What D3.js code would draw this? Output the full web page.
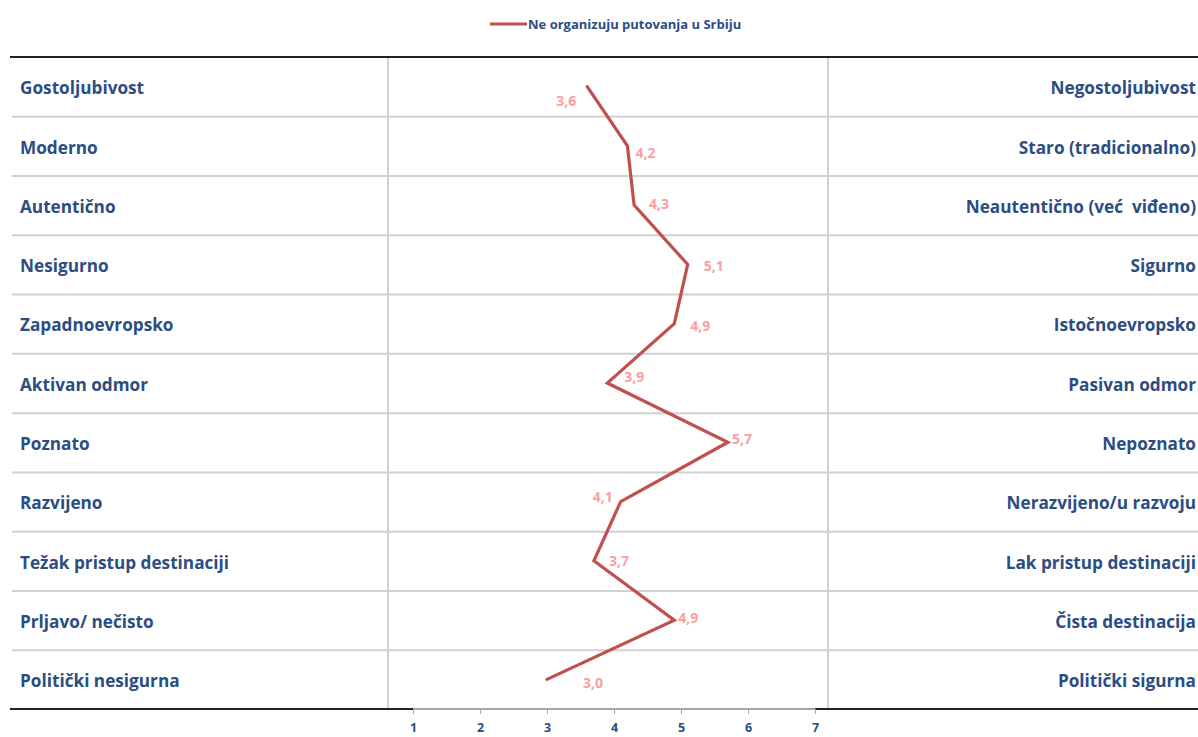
<!DOCTYPE html>
<html>
<head>
<meta charset="utf-8">
<script src="https://cdn.jsdelivr.net/npm/d3@7"></script>
<style>
  html, body { margin: 0; padding: 0; background: #fff; }
  svg { display: block; }
  text { font-family: "Open Sans", Lato, sans-serif; }
</style>
</head>
<body>
<svg id="chart" width="1198" height="737"></svg>
<script>
// Semantic differential: left pole, right pole, average score (1–7)
const leftPoles = [
  "Gostoljubivost", "Moderno", "Autentično", "Nesigurno", "Zapadnoevropsko",
  "Aktivan odmor", "Poznato", "Razvijeno", "Težak pristup destinaciji",
  "Prljavo/ nečisto", "Politički nesigurna"
];
const rightPoles = [
  "Negostoljubivost", "Staro (tradicionalno)", "Neautentično (već  viđeno)", "Sigurno",
  "Istočnoevropsko", "Pasivan odmor", "Nepoznato", "Nerazvijeno/u razvoju",
  "Lak pristup destinaciji", "Čista destinacija", "Politički sigurna"
];
const seriesName = "Ne organizuju putovanja u Srbiju";
const scores = [3.6, 4.2, 4.3, 5.1, 4.9, 3.9, 5.7, 4.1, 3.7, 4.9, 3.0];
const ticks = [1, 2, 3, 4, 5, 6, 7];

// where each value label sits relative to its point
const labelNudge = [
  [-21, 14], [18, 7], [25, -1], [26, 2], [26, 2], [27, -6],
  [14, -3], [-18, -4], [25, 0], [14, -2], [46, 4]
];

const blue = "#2c4d82";
const lineRed = "#c0504d";
const labelPink = "#fd9e9e";

const svg = d3.select("#chart");
const tableLeft = 10, tableRight = 1198, tableTop = 57, tableBottom = 709;
const colA = 388, colB = 828;

const x = d3.scaleLinear().domain([1, 7]).range([413, 815]);
const y = d3.scaleBand().domain(d3.range(scores.length)).range([tableTop, tableBottom]).padding(0);

// row separators
svg.append("g").selectAll("line")
  .data(d3.range(1, scores.length))
  .join("line")
  .attr("x1", 12).attr("x2", tableRight)
  .attr("y1", d => y(d) + 0.5).attr("y2", d => y(d) + 0.5)
  .attr("stroke", "#d0d0d0").attr("stroke-width", 2);

// column separators
svg.append("g").selectAll("line")
  .data([colA, colB])
  .join("line")
  .attr("x1", d => d).attr("x2", d => d)
  .attr("y1", tableTop).attr("y2", tableBottom)
  .attr("stroke", "#d0d0d0").attr("stroke-width", 2);

// table frame
svg.append("line").attr("x1", tableLeft).attr("x2", tableRight)
  .attr("y1", tableTop).attr("y2", tableTop).attr("stroke", "#222").attr("stroke-width", 2.2);
svg.append("line").attr("x1", tableLeft).attr("x2", tableRight)
  .attr("y1", tableBottom).attr("y2", tableBottom).attr("stroke", "#222").attr("stroke-width", 2);

// pole labels
svg.append("g").selectAll("text")
  .data(leftPoles)
  .join("text")
  .attr("x", 20).attr("y", (d, i) => y(i) + y.bandwidth() / 2)
  .attr("dy", "0.45em")
  .attr("fill", blue).attr("font-weight", "bold").attr("font-size", 17.2)
  .text(d => d);

svg.append("g").selectAll("text")
  .data(rightPoles)
  .join("text")
  .attr("x", 1196).attr("y", (d, i) => y(i) + y.bandwidth() / 2)
  .attr("dy", "0.45em").attr("text-anchor", "end")
  .attr("fill", blue).attr("font-weight", "bold").attr("font-size", 17.2)
  .style("white-space", "pre")
  .text(d => d);

// x axis
const axis = svg.append("g").attr("transform", `translate(0,${tableBottom})`)
  .call(d3.axisBottom(x).tickValues(ticks).tickSize(5).tickPadding(9).tickFormat(d3.format("d")));
axis.select(".domain").attr("stroke", "#a6a6a6").attr("stroke-width", 2)
  .attr("d", `M${x(1)},0H${x(7)}`);
axis.selectAll(".tick line").attr("stroke", "#a6a6a6");
axis.selectAll(".tick text")
  .attr("fill", blue).attr("font-weight", "bold").attr("font-size", 12.5)
  .attr("font-family", "'Open Sans', Lato, sans-serif");

// profile line
const yc = i => y(i) + y.bandwidth() / 2;
const line = d3.line().x(d => x(d)).y((d, i) => yc(i));
svg.append("path").datum(scores)
  .attr("d", line)
  .attr("fill", "none").attr("stroke", lineRed).attr("stroke-width", 3.2)
  .attr("stroke-linejoin", "miter").attr("stroke-linecap", "round");

// value labels
const fmt = v => d3.format(".1f")(v).replace(".", ",");
svg.append("g").selectAll("text")
  .data(scores)
  .join("text")
  .attr("x", (d, i) => x(d) + labelNudge[i][0])
  .attr("y", (d, i) => yc(i) + labelNudge[i][1])
  .attr("dy", "0.35em").attr("text-anchor", "middle")
  .attr("fill", labelPink).attr("font-weight", "bold").attr("font-size", 14)
  .text(fmt);

// legend
const legend = svg.append("g").attr("transform", "translate(490,24)");
legend.append("line").attr("x1", 0).attr("x2", 37).attr("y1", 0).attr("y2", 0)
  .attr("stroke", lineRed).attr("stroke-width", 3.2);
legend.append("text").attr("x", 38).attr("y", 0).attr("dy", "0.35em")
  .attr("fill", blue).attr("font-weight", "bold").attr("font-size", 13)
  .text(seriesName);
</script>
</body>
</html>
